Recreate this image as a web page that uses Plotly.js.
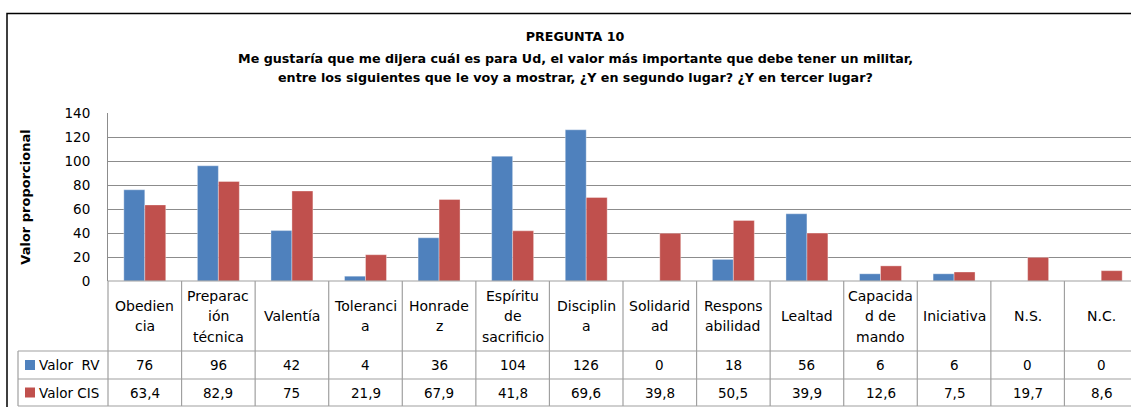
<!DOCTYPE html>
<html>
<head>
<meta charset="utf-8">
<script src="https://cdn.plot.ly/plotly-3.0.1.min.js"></script>
<style>
html,body{margin:0;padding:0;overflow:hidden;background:#fff;}
#chart{width:1140px;height:407px;}
</style>
</head>
<body>
<div id="chart"></div>
<script>
// ---- data ----
const categories = ["Obediencia","Preparación técnica","Valentía","Tolerancia","Honradez","Espíritu de sacrificio","Disciplina","Solidaridad","Responsabilidad","Lealtad","Capacidad de mando","Iniciativa","N.S.","N.C."];
const categoryLabels = ["Obedien<br>cia","Preparac<br>ión<br>técnica","Valentía","Toleranci<br>a","Honrade<br>z","Espíritu<br>de<br>sacrificio","Disciplin<br>a","Solidarid<br>ad","Respons<br>abilidad","Lealtad","Capacida<br>d de<br>mando","Iniciativa","N.S.","N.C."];
const seriesNames = ["Valor\u00a0 RV","Valor CIS"];
const valorRV = [76,96,42,4,36,104,126,0,18,56,6,6,0,0];
const valorCIS = [63.4,82.9,75,21.9,67.9,41.8,69.6,39.8,50.5,39.9,12.6,7.5,19.7,8.6];
const yTicks = [0,20,40,60,80,100,120,140];
const titleLines = ["PREGUNTA 10","Me gustaría que me dijera cuál es para Ud, el valor más importante que debe tener un militar,","entre los siguientes que le voy a mostrar, ¿Y en segundo lugar? ¿Y en tercer lugar?"];
const yTitle = "Valor proporcional";

// ---- layout geometry ----
const W = 1140, H = 407;
const ML = 108, MR = 2, MT = 113, MB = 126;
const PW = W - ML - MR, PH = H - MT - MB;
const fx = px => (px - ML) / PW;
const fy = py => (H - MB - py) / PH;
const colors = ["#4F81BD", "#C0504D"];
const FONT = "'DejaVu Sans', sans-serif";
const gridCol = "#a0a0a0";
const TITLE_CX = 575;
const TITLE_FS = 12.7;

const n = categories.length;
const fmt = v => String(v).replace(".", ",");

const traces = [
  {type:"bar", x:categories, y:valorRV, name:seriesNames[0], marker:{color:colors[0], line:{color:"rgba(255,255,255,0.35)", width:1}}, hoverinfo:"x+y"},
  {type:"bar", x:categories, y:valorCIS, name:seriesNames[1], marker:{color:colors[1], line:{color:"rgba(255,255,255,0.35)", width:1}}, hoverinfo:"x+y"}
];

const shapes = [];
const annotations = [];
const rowTop = 281, row1 = 351, row2 = 379, rowBot = 406, legLeft = 18;
// outer chart border
shapes.push({type:"rect", xref:"paper", yref:"paper", x0:fx(7), x1:fx(1200), y0:fy(13.5), y1:fy(460), line:{color:"#000", width:1.5}, fillcolor:"rgba(0,0,0,0)"});
// horizontal table lines
shapes.push({type:"line", xref:"paper", yref:"paper", x0:0, x1:1, y0:fy(rowTop), y1:fy(rowTop), line:{color:gridCol, width:1.2}});
[row1,row2,rowBot].forEach(r => shapes.push({type:"line", xref:"paper", yref:"paper", x0:fx(legLeft), x1:1, y0:fy(r), y1:fy(r), line:{color:gridCol, width:1.2}}));
// vertical table lines
for (let i = 0; i <= n; i++) {
  shapes.push({type:"line", xref:"paper", yref:"paper", x0:i/n, x1:i/n, y0:fy(rowTop), y1:fy(rowBot), line:{color:gridCol, width:1.2}});
}
shapes.push({type:"line", xref:"paper", yref:"paper", x0:fx(legLeft), x1:fx(legLeft), y0:fy(row1), y1:fy(rowBot), line:{color:gridCol, width:1.2}});

// category header (one annotation per wrapped line) + values
const HDR_LS = 20.5;
categories.forEach((c, i) => {
  const lines = categoryLabels[i].split("<br>");
  const cy = (rowTop + row1) / 2;
  lines.forEach((ln, k) => {
    const y = cy + (k - (lines.length - 1) / 2) * HDR_LS;
    annotations.push({xref:"x", yref:"paper", x:c, y:fy(y), text:ln, showarrow:false, xanchor:"center", yanchor:"middle", font:{family:FONT, size:14, color:"#000"}});
  });
  annotations.push({xref:"x", yref:"paper", x:c, y:fy((row1+row2)/2), text:fmt(valorRV[i]), showarrow:false, xanchor:"center", yanchor:"middle", font:{family:FONT, size:13.5, color:"#000"}});
  annotations.push({xref:"x", yref:"paper", x:c, y:fy((row2+rowBot)/2), text:fmt(valorCIS[i]), showarrow:false, xanchor:"center", yanchor:"middle", font:{family:FONT, size:13.5, color:"#000"}});
});
// legend keys inside the table
[[row1,row2],[row2,rowBot]].forEach((r, k) => {
  const cy = (r[0]+r[1])/2;
  shapes.push({type:"rect", xref:"paper", yref:"paper", x0:fx(25), x1:fx(35), y0:fy(cy-5), y1:fy(cy+5), line:{width:0}, fillcolor:colors[k]});
  annotations.push({xref:"paper", yref:"paper", x:fx(37), y:fy(cy), text:seriesNames[k], showarrow:false, xanchor:"left", yanchor:"middle", font:{family:FONT, size:13.5, color:"#000"}});
});
// title lines 2 and 3
[58, 77.5].forEach((py, k) => {
  annotations.push({xref:"paper", yref:"paper", x:fx(TITLE_CX), y:fy(py), text:"<b>"+titleLines[k+1]+"</b>", showarrow:false, xanchor:"center", yanchor:"middle", font:{family:FONT, size:TITLE_FS, color:"#000"}});
});

const layout = {
  width:W, height:H,
  margin:{l:ML, r:MR, t:MT, b:MB, pad:0},
  paper_bgcolor:"#fff", plot_bgcolor:"#fff",
  showlegend:false,
  bargap:0.43, bargroupgap:0,
  font:{family:FONT, size:13.5, color:"#000"},
  title:{text:"<b>"+titleLines[0]+"</b>", x:TITLE_CX/W, xref:"container", xanchor:"center", y:1-37/H, yref:"container", yanchor:"middle", font:{family:FONT, size:TITLE_FS, color:"#000"}},
  xaxis:{type:"category", showticklabels:false, showgrid:false, zeroline:false, showline:false, ticks:"", range:[-0.5, n-0.5], fixedrange:true},
  yaxis:{range:[0,140], tickvals:yTicks, ticktext:yTicks.map(String), showgrid:true, gridcolor:"#8c8c8c", gridwidth:1, zeroline:false, showline:true, linecolor:"#8c8c8c", linewidth:1, ticks:"outside", ticklen:14, tickcolor:"rgba(0,0,0,0)", tickfont:{family:FONT, size:13.5, color:"#000"},
         title:{text:"<b>"+yTitle+"</b>", font:{family:FONT, size:13, color:"#000"}, standoff:30}, fixedrange:true},
  shapes:shapes,
  annotations:annotations
};

Plotly.newPlot("chart", traces, layout, {displayModeBar:false, staticPlot:true});
</script>
</body>
</html>
